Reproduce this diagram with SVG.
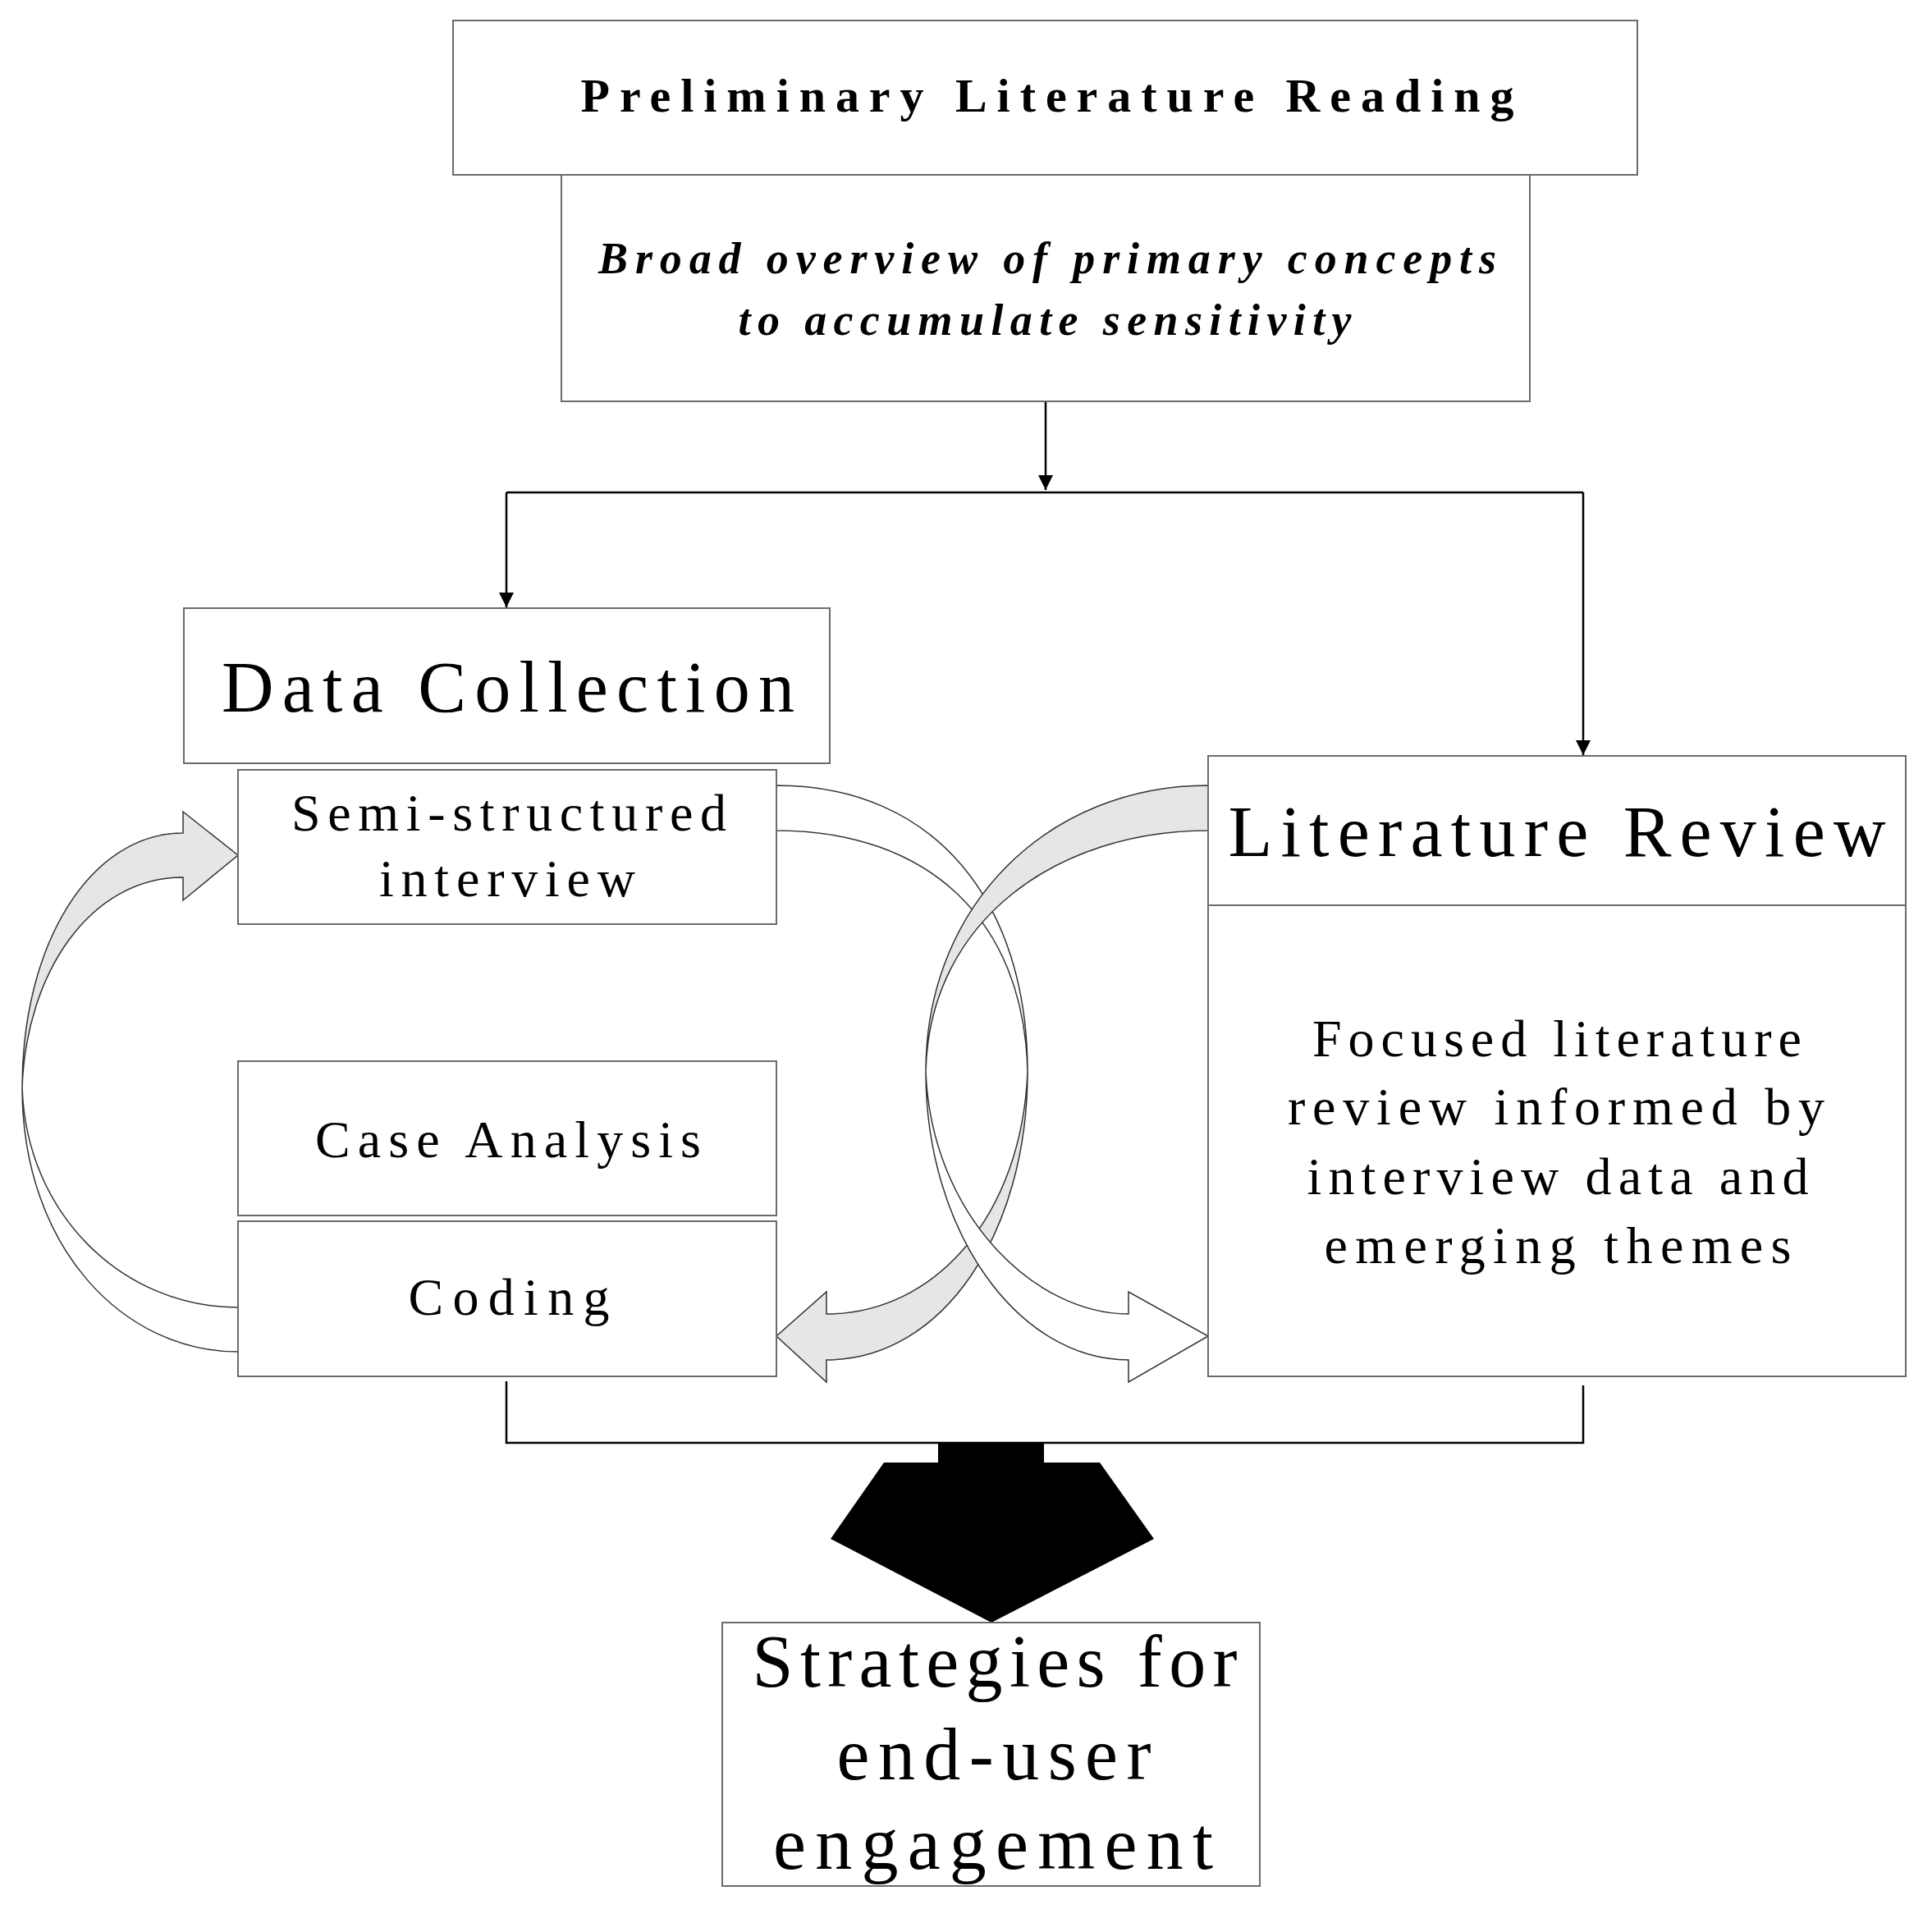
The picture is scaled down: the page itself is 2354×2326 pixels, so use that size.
<svg xmlns="http://www.w3.org/2000/svg" width="2354" height="2326" viewBox="0 0 2354 2326">
<style>
.box{fill:#fff;stroke:#6b6b6b;stroke-width:2}
.t{font-family:"Liberation Serif",serif;fill:#000;text-anchor:middle}
.ln{fill:none;stroke:#000;stroke-width:2.5}
.rg{stroke:#333;stroke-width:1.5}
</style>
<defs><marker id="ah" markerWidth="10" markerHeight="10" refX="9" refY="5" orient="auto" markerUnits="userSpaceOnUse" viewBox="0 0 10 10"><path d="M0,0 L10,5 L0,10 Z" fill="#000"/></marker>
<marker id="ah2" viewBox="0 0 10 10" refX="10" refY="5" markerWidth="18" markerHeight="22" orient="auto" markerUnits="userSpaceOnUse"><path d="M0,0 L10,5 L0,10 Z" fill="#000"/></marker></defs>
<rect width="2354" height="2326" fill="#fff"/>
<g id="connectors">
<path class="ln" d="M1274,489 V597" marker-end="url(#ah2)"/>
<path class="ln" d="M617,600 H1929"/>
<path class="ln" d="M617,600 V740" marker-end="url(#ah2)"/>
<path class="ln" d="M1929,600 V920" marker-end="url(#ah2)"/>
<path class="ln" d="M617,1683 V1758 H1929 V1688"/>
<polygon points="1143,1758 1272,1758 1272,1782 1340,1782 1406,1875 1208,1977 1012,1875 1077,1782 1143,1782" fill="#000"/>
<path class="rg" fill="#e6e6e6" d="M223,1015 C110,1015 27,1150 27,1325 C32,1185 110,1069 223,1069 L223,1097 L290,1042 L223,989 Z"/>
<path class="rg" fill="#fff" d="M27,1325 C27,1520 150,1647 290,1647 L290,1593 C150,1593 32,1480 27,1325 Z"/>
<path class="rg" fill="#fff" d="M946,957 C1140,957 1252,1100 1252,1306 C1248,1120 1130,1012 946,1012 Z"/>
<path class="rg" fill="#e6e6e6" d="M1472,957 C1280,957 1128,1100 1128,1306 C1132,1120 1290,1012 1472,1012 Z"/>
<path class="rg" fill="#e6e6e6" d="M1252,1306 C1252,1500 1150,1657 1007,1657 L1007,1684 L946,1628 L1007,1574 L1007,1601 C1140,1601 1245,1480 1252,1306 Z"/>
<path class="rg" fill="#fff" d="M1128,1306 C1128,1500 1240,1657 1375,1657 L1375,1684 L1472,1628 L1375,1574 L1375,1601 C1260,1601 1135,1480 1128,1306 Z"/>
</g>
<g id="n1"><rect class="box" x="552" y="25" width="1443" height="188"/><text class="t" x="1276" y="136" font-size="58" font-weight="bold" textLength="1137">Preliminary Literature Reading</text></g>
<g id="n2"><rect class="box" x="684" y="213" width="1180" height="276"/><text class="t" x="1276" y="333" font-size="54" font-weight="bold" font-style="italic" textLength="1094">Broad overview of primary concepts</text><text class="t" x="1273" y="408" font-size="54" font-weight="bold" font-style="italic" textLength="747">to accumulate sensitivity</text></g>
<g id="n3"><rect class="box" x="224" y="741" width="787" height="189"/><text class="t" x="619" y="867" font-size="88" textLength="698">Data Collection</text></g>
<g id="n4"><rect class="box" x="290" y="938" width="656" height="188"/><text class="t" x="620" y="1012" font-size="64" textLength="530">Semi-structured</text><text class="t" x="618" y="1092" font-size="64" textLength="312">interview</text></g>
<g id="n5"><rect class="box" x="290" y="1293" width="656" height="188"/><text class="t" x="619" y="1410" font-size="64" textLength="470">Case Analysis</text></g>
<g id="n6"><rect class="box" x="290" y="1488" width="656" height="189"/><text class="t" x="620" y="1602" font-size="64" textLength="245">Coding</text></g>
<g id="n7"><rect class="box" x="1472" y="921" width="850" height="756"/><line x1="1472" y1="1103" x2="2322" y2="1103" stroke="#6b6b6b" stroke-width="2"/><text class="t" x="1897" y="1043" font-size="88" textLength="801">Literature Review</text>
<text class="t" x="1897" y="1287" font-size="64" textLength="596">Focused literature</text><text class="t" x="1896" y="1370" font-size="64" textLength="654">review informed by</text><text class="t" x="1898" y="1455" font-size="64" textLength="611">interview data and</text><text class="t" x="1898" y="1539" font-size="64" textLength="569">emerging themes</text></g>
<g id="n8"><rect class="box" x="880" y="1977" width="655" height="321"/><text class="t" x="1212" y="2055" font-size="90" textLength="591">Strategies for</text><text class="t" x="1211" y="2168" font-size="90" textLength="383">end-user</text><text class="t" x="1210" y="2277" font-size="90" textLength="536">engagement</text></g>
</svg>
